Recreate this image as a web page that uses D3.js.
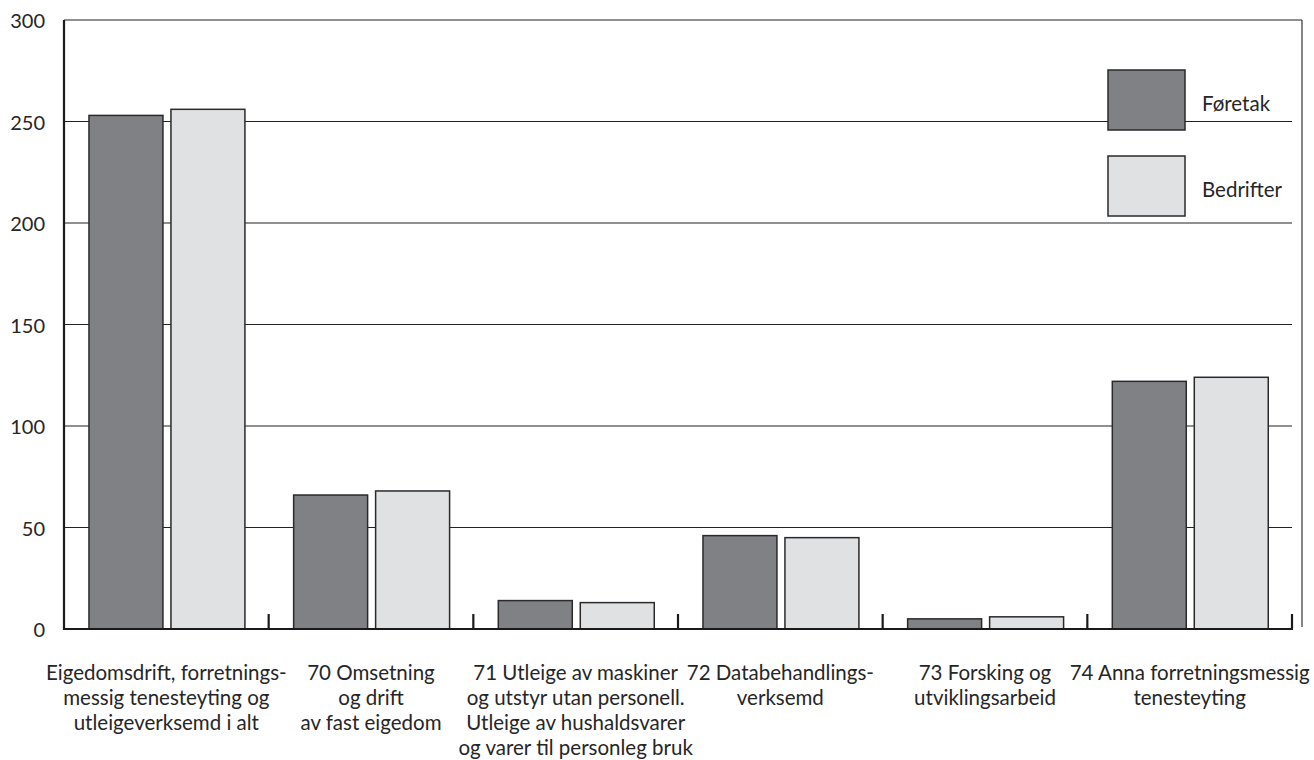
<!DOCTYPE html>
<html>
<head>
<meta charset="utf-8">
<script src="https://cdn.jsdelivr.net/npm/d3@7"></script>
<style>
  html, body { margin: 0; padding: 0; background: #fff; }
  text { font-family: Lato, "Open Sans", sans-serif; font-weight: 400; fill: #262626; }
</style>
</head>
<body>
<svg id="chart" width="1314" height="760"></svg>
<script>
const categories = [
  ["Eigedomsdrift, forretnings-", "messig tenesteyting og", "utleigeverksemd i alt"],
  ["70 Omsetning", "og drift", "av fast eigedom"],
  ["71 Utleige av maskiner", "og utstyr utan personell.", "Utleige av hushaldsvarer", "og varer til personleg bruk"],
  ["72 Databehandlings-", "verksemd"],
  ["73 Forsking og", "utviklingsarbeid"],
  ["74 Anna forretningsmessig", "tenesteyting"]
];
const seriesNames = ["Føretak", "Bedrifter"];
const foretak = [253, 66, 14, 46, 5, 122];
const bedrifter = [256, 68, 13, 45, 6, 124];
const yTicks = [0, 50, 100, 150, 200, 250, 300];
const colors = ["#808184", "#e0e1e3"];

const svg = d3.select("#chart");
const mLeft = 64, mRight = 1292, mTop = 20, mBottom = 629;

const x0 = d3.scaleBand().domain(d3.range(categories.length)).range([mLeft, mRight]).padding(0);
const bw = x0.bandwidth();
const x1 = d3.scaleBand().domain(seriesNames).range([bw * 0.122, bw * 0.884]).paddingInner(0.0976).paddingOuter(0);
const y = d3.scaleLinear().domain([0, 300]).range([mBottom, mTop]);

// gridlines
svg.append("g").selectAll("line").data(yTicks.filter(d => d > 0)).join("line")
  .attr("x1", mLeft).attr("x2", d => d === 300 ? 1302 : mRight)
  .attr("y1", d => y(d)).attr("y2", d => y(d))
  .attr("stroke", "#222").attr("stroke-width", 1.1);

// right frame line
svg.append("line").attr("x1", 1302).attr("x2", 1302).attr("y1", mTop).attr("y2", mBottom - 2)
  .attr("stroke", "#222").attr("stroke-width", 1.1);

// y tick labels
svg.append("g").selectAll("text").data(yTicks).join("text")
  .attr("x", 45).attr("y", d => y(d) + 1).attr("dy", "0.36em")
  .attr("text-anchor", "end").attr("font-size", 20).text(d => d);

// bars
const data = categories.map((c, i) => ({ i, vals: [foretak[i], bedrifter[i]] }));
const groups = svg.append("g").selectAll("g").data(data).join("g")
  .attr("transform", d => `translate(${x0(d.i)},0)`);
groups.selectAll("rect").data(d => d.vals.map((v, k) => ({ k, v }))).join("rect")
  .attr("x", d => x1(seriesNames[d.k]))
  .attr("width", x1.bandwidth())
  .attr("y", d => y(d.v))
  .attr("height", d => y(0) - y(d.v))
  .attr("fill", d => colors[d.k])
  .attr("stroke", "#2a2a2a").attr("stroke-width", 1.5);

// axes lines
svg.append("line").attr("x1", mLeft).attr("x2", mLeft).attr("y1", mTop).attr("y2", mBottom + 1)
  .attr("stroke", "#1a1a1a").attr("stroke-width", 2.2);
svg.append("line").attr("x1", mLeft - 1).attr("x2", mRight + 1).attr("y1", mBottom).attr("y2", mBottom)
  .attr("stroke", "#1a1a1a").attr("stroke-width", 2.2);

// category boundary ticks
svg.append("g").selectAll("line").data(d3.range(1, categories.length + 1)).join("line")
  .attr("x1", d => mLeft + d * bw).attr("x2", d => mLeft + d * bw)
  .attr("y1", mBottom).attr("y2", mBottom - 15)
  .attr("stroke", "#1a1a1a").attr("stroke-width", 2.2);

// category labels
const lab = svg.append("g").selectAll("text").data(categories).join("text")
  .attr("text-anchor", "middle").attr("font-size", 20.5)
  .attr("transform", (d, i) => `translate(${x0(i) + bw / 2},${680})`);
lab.selectAll("tspan").data(d => d).join("tspan")
  .attr("x", 0).attr("y", (d, j) => j * 25).text(d => d);

// legend
const legend = svg.append("g");
seriesNames.forEach((s, k) => {
  const ly = 70 + k * 86;
  legend.append("rect").attr("x", 1108).attr("y", ly).attr("width", 77).attr("height", 60)
    .attr("fill", colors[k]).attr("stroke", "#2a2a2a").attr("stroke-width", 1.5);
  legend.append("text").attr("x", 1202).attr("y", ly + 41).attr("font-size", 20.5).text(s);
});
</script>
</body>
</html>
